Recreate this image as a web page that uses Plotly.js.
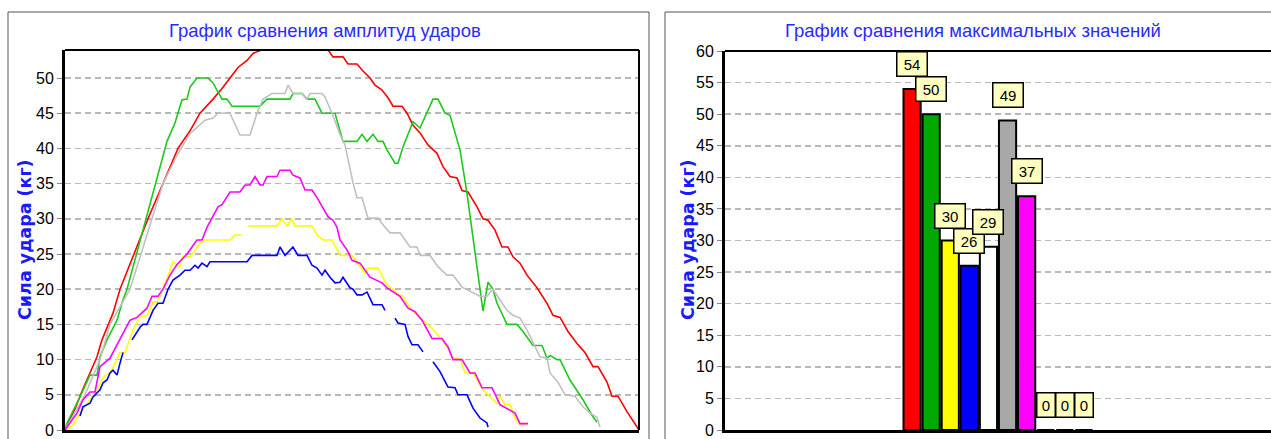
<!DOCTYPE html>
<html>
<head>
<meta charset="utf-8">
<script src="https://cdn.plot.ly/plotly-3.0.1.min.js"></script>
<style>
html,body{margin:0;padding:0;background:#fff;}
#chart{width:1271px;height:439px;}
</style>
</head>
<body>
<div id="chart"></div>
<script>
// ---------- DATA ----------
const leftTitle = "График сравнения амплитуд ударов";
const rightTitle = "График сравнения максимальных значений";
const yTitle = "Сила удара (кг)";

// amplitude curves (sample index, force in kg)
const xRed = [0,10,17,23,32,37,42,48,55,69,83,98,113,125,135,148,157,165,173,182,188,197,263,268,278,283,292,298,305,310,317,323,328,337,342,348,355,363,372,378,385,392,397,403,412,418,423,430,437,443,448,455,462,472,482,488,495,503,512,520,528,533,542,547,553,562,572,574];
const yRed = [0,3,5.5,7.4,10.4,12.8,14.6,16.6,20,25,30,35,40,42.5,45,47,48.5,50,51.5,52.5,53.5,54,54,53,53,52,52,51,50,49,48.3,47.2,46,46,45,43.3,42.2,40.5,39.3,37.4,36,35.8,34,33.8,31.7,30,29.8,28.4,26,26,24.6,23.7,22,20.2,18,16.3,16,14,12.3,11,9,9,6.8,4.8,4.8,2.6,0.4,0];

const xGreen = [0,2,15,25,32,35,42,52,58,62,102,110,117,122,125,132,143,148,153,157,162,167,195,202,225,228,237,242,250,257,265,270,278,292,297,302,308,313,318,322,330,333,338,348,355,368,373,380,385,395,402,408,415,418,423,428,432,442,452,458,468,477,482,485,492,495,505,518,527,532];
const yGreen = [0,1,4.7,7.8,7.8,10.4,12.8,15.6,18.5,20,41,43.6,46.9,47,48.7,50,50,49.3,48,47,47,46,46,47,47,47.8,47.8,47,47,45,45,45,41,41,42,41,42,41,41,39.8,37.9,37.9,40.2,43.8,42.9,47,47,45,44.7,39.8,33.6,27.4,20,16.9,21,20,18,15,15,14,12,12,10.2,10.6,10,10,7.1,4.3,2.1,1.1];

const xYellow = [0,8,15,25,32,38,45,52,55,60,68,75,82,88,92,98,108,115,118,125,132,135,140,165,170,177,null,183,212,217,222,227,230,247,252,258,267,275,287,300,303,313,322,328,332,338,345,355,362,370,377,383,388,395,400,408,418,427,432,435,440,445,450,455,462];
const yYellow = [0,0.7,2.4,4.3,5.7,7.5,8.1,10,11,11,14.2,16,16.3,18.2,18.2,20,23.9,23.2,24.6,24.6,26,26.5,27,27,27.7,27.7,null,29,29,30,29,30,29,29,27.7,27,27,24.8,24.8,22.3,23,23,20.6,20,19.4,19,17.3,16,15,14,12.8,11.6,10.2,10.2,8.1,8.1,5.7,4.5,3.8,4.8,3.6,3.6,1.7,0.7,0.7];

const xBlue = [15,18,25,28,35,38,42,45,48,52,55,58,null,67,75,78,82,88,93,98,103,108,115,120,125,130,133,137,142,145,182,187,212,215,220,228,233,242,247,252,257,260,265,270,275,278,285,288,292,297,302,305,308,317,320,null,330,333,340,343,347,353,358,null,368,375,383,390,393,402,408,415,422,423];
const yBlue = [2,3.3,3.8,4.7,5.7,6.7,7.1,8.1,8.5,7.8,9.5,11,null,12.8,14.6,15,15,17,18,18,20,21.3,22,22.7,22.7,23.4,23,23.7,23.2,23.9,23.9,24.8,24.8,26,24.8,26,24.8,24.8,23.4,23,22,22.7,21.7,20.9,21,21.7,20.2,20,19.2,19.2,19.6,18.7,17.8,17.8,17,null,15.9,15.2,15,13.3,12.1,12.1,11.1,null,9.7,8.3,6.1,6,5,5,3.1,1.7,1,0.4];

const xGray = [0,20,35,45,57,65,87,98,112,117,125,132,140,148,153,165,175,185,192,198,207,220,223,228,237,242,245,257,260,267,275,280,288,292,297,303,313,320,325,335,345,352,355,365,373,382,388,397,407,415,422,428,435,442,448,455,462,468,475,482,485,493,500,510,518,525,532,535];
const yGray = [0,5,10,15,18,20,30,35,39,40.2,42.1,43,44,44.3,45,45,41.9,41.9,45,47,47.8,47.8,49,47.8,47.8,47,47.8,47.8,47.3,45,42,40.5,35.1,33,33,30.1,30.1,28.8,28,28,26,26,24.8,24.8,23.2,22,22,20.3,19.6,19,19,20,18.5,17,16.3,15.9,14.2,12.5,10.4,10.2,8.1,6.8,5,4.8,3.3,2.4,1.8,0.4];

const xMagenta = [0,12,18,25,30,35,45,55,65,72,78,82,87,93,98,105,112,122,132,137,142,147,153,157,165,175,180,185,190,195,198,202,212,215,225,228,235,240,247,252,257,263,268,272,275,282,287,295,305,317,322,335,343,350,357,367,377,383,388,397,405,410,417,427,435,445,450,455,463];
const yMagenta = [0,2.4,4.3,5.4,5.4,9,10.2,12.8,15.6,16,16.8,17.3,19,19,20,22,23.5,25,27,27,28.8,30.1,31.7,32,33.8,33.8,34.8,34.8,36,34.8,34.8,36,36,36.9,36.9,36.2,35.8,34.1,34.1,33,31.7,30.3,29.8,28.8,27,25.6,24.1,23.7,21.7,20.9,20.2,19,17.3,16.8,15.6,13,13,11.8,10,10,8.1,8.1,6,6,3.6,2.8,2.4,0.9,0.9];

// maximum values (bar chart)
const maxValues = [54, 50, 30, 26, 29, 49, 37, 0, 0, 0];
const barColors = ["#ff0000","#00a800","#ffff00","#0000ff","#ffffff","#a8a8a8","#ff00ff","#000000","#000000","#000000"];

const yTicksLeft = [0,5,10,15,20,25,30,35,40,45,50];
const yTicksRight = [0,5,10,15,20,25,30,35,40,45,50,55,60];

// ---------- LAYOUT HELPERS ----------
const W = 1271, H = 439;
const fx = p => p / W;
const fy = p => 1 - p / H;

const lineSeries = [
  {x: xRed, y: yRed, c: "#ff0000"},
  {x: xGreen, y: yGreen, c: "#1ec81e"},
  {x: xYellow, y: yYellow, c: "#ffff00"},
  {x: xBlue, y: yBlue, c: "#0000ff"},
  {x: xGray, y: yGray, c: "#c0c0c0"},
  {x: xMagenta, y: yMagenta, c: "#ff00ff"}
];

const traces = lineSeries.map(s => ({
  type: "scatter", mode: "lines", x: s.x, y: s.y,
  xaxis: "x", yaxis: "y",
  line: {color: s.c, width: 1.6},
  connectgaps: false, hoverinfo: "skip", showlegend: false
}));

const barX = maxValues.map((v, i) => i);
traces.push({
  type: "bar", x: barX, y: maxValues, xaxis: "x2", yaxis: "y2",
  width: 0.9,
  marker: {color: barColors, line: {color: "#000000", width: 2}},
  hoverinfo: "skip", showlegend: false
});

const tickFont = {family: "Liberation Sans, Arial, sans-serif", size: 16, color: "#000"};
const titleFont = {family: "Liberation Sans, Arial, sans-serif", size: 18.5, color: "#2a2aff"};
const yTitleFont = {family: "DejaVu Sans, sans-serif", size: 17.5, color: "#1a1aff", weight: "bold"};

const annotations = [
  {text: leftTitle, xref: "paper", yref: "paper", x: fx(325), y: fy(30), xanchor: "center", yanchor: "middle", showarrow: false, font: titleFont},
  {text: rightTitle, xref: "paper", yref: "paper", x: fx(973), y: fy(30), xanchor: "center", yanchor: "middle", showarrow: false, font: titleFont},
  {text: "<b>" + yTitle + "</b>", xref: "paper", yref: "paper", x: fx(25), y: fy(240), xanchor: "center", yanchor: "middle", textangle: -90, showarrow: false, font: yTitleFont},
  {text: "<b>" + yTitle + "</b>", xref: "paper", yref: "paper", x: fx(688), y: fy(240), xanchor: "center", yanchor: "middle", textangle: -90, showarrow: false, font: yTitleFont}
];

maxValues.forEach((v, i) => {
  const txt = String(v);
  annotations.push({
    text: txt, x: i, y: v, xref: "x2", yref: "y2",
    xanchor: "center", yanchor: "bottom", yshift: 12, showarrow: false,
    bgcolor: "#ffffc0", bordercolor: "#000000", borderwidth: 1.5, borderpad: 2.5,
    width: txt.length > 1 ? 24 : 12, height: 18,
    font: {family: "Liberation Sans, Arial, sans-serif", size: 15, color: "#000"}
  });
});

const shapes = [
  // panel frames
  {type: "rect", xref: "paper", yref: "paper", x0: fx(8), x1: fx(649), y0: -0.1, y1: fy(12), line: {color: "#555", width: 1}, layer: "below"},
  {type: "rect", xref: "paper", yref: "paper", x0: fx(665), x1: 1.1, y0: -0.1, y1: fy(12), line: {color: "#555", width: 1}, layer: "below"},
  // plot area borders (top and right)
  {type: "line", xref: "x domain", yref: "y domain", x0: 0, x1: 1, y0: 1, y1: 1, line: {color: "#000", width: 2}},
  {type: "line", xref: "x domain", yref: "y domain", x0: 1, x1: 1, y0: 0, y1: 1, line: {color: "#000", width: 2}},
  {type: "line", xref: "x2 domain", yref: "y2 domain", x0: 0, x1: 1, y0: 1, y1: 1, line: {color: "#000", width: 2}}
];

const gridStyle = {showgrid: true, gridcolor: "#b8b8b8", gridwidth: 1.5, griddash: "6px,4px"};

const layout = {
  width: W, height: H,
  margin: {l: 0, r: 0, t: 0, b: 0},
  paper_bgcolor: "#ffffff", plot_bgcolor: "#ffffff",
  showlegend: false,
  bargap: 0,
  xaxis: {domain: [fx(65), fx(639)], range: [0, 574], showticklabels: false, ticks: "", showgrid: false, zeroline: false,
          showline: true, linecolor: "#000", linewidth: 3, fixedrange: true},
  yaxis: Object.assign({domain: [fy(430), fy(50)], range: [0, 53.98], tickvals: yTicksLeft, ticktext: yTicksLeft.map(String),
          ticks: "outside", ticklen: 5, tickcolor: "#888", tickwidth: 1, tickfont: tickFont, zeroline: false,
          showline: true, linecolor: "#000", linewidth: 3, fixedrange: true}, gridStyle),
  xaxis2: {domain: [fx(725), 1], range: [-9.8, 18.8], showticklabels: false, ticks: "", showgrid: false, zeroline: false,
          showline: true, linecolor: "#000", linewidth: 3, anchor: "y2", fixedrange: true},
  yaxis2: Object.assign({domain: [fy(430), fy(51)], range: [0, 60], tickvals: yTicksRight, ticktext: yTicksRight.map(String),
          ticks: "outside", ticklen: 5, tickcolor: "#888", tickwidth: 1, tickfont: tickFont, zeroline: false,
          showline: true, linecolor: "#000", linewidth: 3, anchor: "x2", fixedrange: true}, gridStyle),
  annotations: annotations,
  shapes: shapes
};

Plotly.newPlot("chart", traces, layout, {staticPlot: true, displayModeBar: false});
</script>
</body>
</html>
